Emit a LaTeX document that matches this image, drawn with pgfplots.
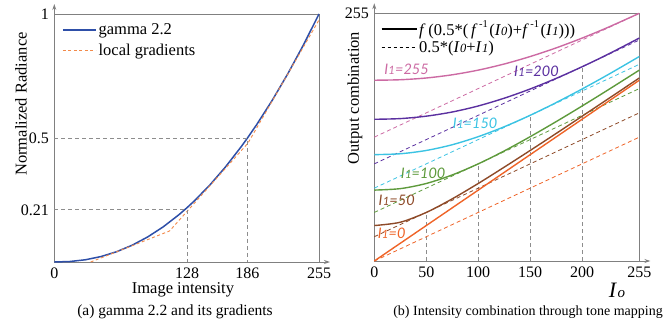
\documentclass[border=0pt]{standalone}
\usepackage{fontspec}
\setmainfont{Liberation Serif}
\newfontfamily\lblfont{Lato}
\usepackage{pgfplots}
\pgfplotsset{compat=1.18}
\usetikzlibrary{arrows.meta}
\definecolor{gblue}{HTML}{2E4FA8}
\definecolor{gorange}{HTML}{F28A4A}
\definecolor{cpink}{HTML}{CC6AA3}
\definecolor{cpurple}{HTML}{5B30A0}
\definecolor{ccyan}{HTML}{3BC3E3}
\definecolor{cgreen}{HTML}{5E9A3C}
\definecolor{cbrown}{HTML}{8E4A28}
\definecolor{cred}{HTML}{EF6428}
\definecolor{frame}{HTML}{808080}
\newcommand{\Ione}[1]{{\lblfont\itshape I\kern0.3pt{\fontsize{11.5}{12}\selectfont 1}=#1}}
\newcommand{\finv}{\textit{f}\kern1.5pt\raisebox{1.1ex}{\fontsize{10.5}{11}\selectfont -1}\kern1.5pt}
\newcommand{\Isub}[1]{\textit{I}\kern0.3pt{\fontsize{12.5}{13}\selectfont\textit{#1}}}
\newcommand{\fticks}{\fontsize{16}{18}\selectfont}
\newcommand{\fsixteen}{\fontsize{16.5}{18}\selectfont}
\begin{document}
\fticks
\begin{tikzpicture}[font=\fticks]
\useasboundingbox (0,0) rectangle (671pt,325pt);
% ---------------- left panel ----------------
\begin{axis}[
  scale only axis, anchor=south west, clip=false,
  axis line style={frame, line width=0.9pt},
  major tick length=0pt,
  /pgf/number format/assume math mode=true,
  xticklabel style={font=\fticks},
  yticklabel style={font=\fticks},
  at={(54.3pt,63pt)}, width=264.7pt, height=248pt,
  xmin=0, xmax=255, ymin=0, ymax=1,
  xtick={0,128,186,255}, ytick={0.21,0.5,1},
  yticklabels={0.21,0.5,1},
  xlabel={Image intensity},
  xlabel style={font=\fsixteen, at={(axis description cs:0.486,-0.113)}, anchor=center},
  ylabel={Normalized Radiance},
  ylabel style={font=\fsixteen, at={(axis description cs:-0.126,0.637)}, anchor=center},
  legend style={draw=none, fill=none, at={(axis description cs:0.025,0.975)}, anchor=north west,
    font=\fsixteen, row sep=3pt, inner sep=1pt},
  legend cell align=left,
  legend image code/.code={\draw[#1] (0pt,0pt) -- (33pt,0pt);},
]
\addplot[gblue, line width=1.5pt] coordinates {
(0,0) (15,0.001966) (30,0.009025) (45,0.02201) (60,0.04145) (75,0.06773)
(90,0.10114) (105,0.14197) (120,0.19047) (128,0.21952) (135,0.24680)
(150,0.31117) (165,0.38375) (180,0.46475) (186,0.49950) (195,0.55424)
(210,0.65231) (225,0.75932) (240,0.87514) (255,1)};
\addlegendentry{gamma 2.2}
\addplot[gorange, line width=0.9pt, dash pattern=on 3pt off 2.5pt] coordinates {
(35,0) (111,0.125) (186.5,0.479) (255,0.976)};
\addlegendentry{local gradients}
\addplot[frame!90, line width=0.9pt, dash pattern=on 4pt off 3pt, forget plot] coordinates {(0,0.5) (186,0.5) (186,0)};
\addplot[frame!90, line width=0.9pt, dash pattern=on 4pt off 3pt, forget plot] coordinates {(0,0.21) (128,0.21) (128,0)};
\draw[frame, line width=0.9pt, -{Stealth[length=6pt,width=4pt]}] (rel axis cs:1,0) -- ++(11pt,0);
\draw[frame, line width=0.9pt, -{Stealth[length=6pt,width=4pt]}] (rel axis cs:0,1) -- ++(0,10pt);
\node[font=\fontsize{15.5}{17}\selectfont] at (axis description cs:0.456,-0.2016) {(a) gamma 2.2 and its gradients};
\end{axis}
% ---------------- right panel ----------------
\begin{axis}[
  scale only axis, anchor=south west, clip=false,
  axis line style={frame, line width=0.9pt},
  major tick length=0pt,
  /pgf/number format/assume math mode=true,
  xticklabel style={font=\fticks},
  yticklabel style={font=\fticks},
  at={(374.3pt,64pt)}, width=265pt, height=247.7pt,
  xmin=0, xmax=255, ymin=0, ymax=255,
  xtick={0,50,100,150,200,255}, ytick={255},
  ylabel={Output combination},
  ylabel style={font=\fsixteen, at={(axis description cs:-0.073,0.658)}, anchor=center},
  legend style={draw=none, fill=none, at={(axis description cs:0.02,0.985)}, anchor=north west,
    font=\fsixteen, row sep=-1pt, inner sep=1pt},
  legend cell align=left,
  legend image code/.code={\draw[#1] (0pt,0pt) -- (35pt,0pt);},
]
\addlegendimage{black, line width=1.4pt}
\addlegendentry{\textit{f}\,(0.5*(\,\finv(\Isub{0})+\finv(\Isub{1})))}
\addlegendimage{black, line width=0.7pt, dash pattern=on 3pt off 3pt}
\addlegendentry{0.5*(\Isub{0}+\Isub{1})}
% grey verticals
\addplot[frame!90, line width=0.7pt, dash pattern=on 4pt off 3pt, forget plot] coordinates {(50,0) (50,50)};
\addplot[frame!90, line width=0.7pt, dash pattern=on 4pt off 3pt, forget plot] coordinates {(100,0) (100,100)};
\addplot[frame!90, line width=0.7pt, dash pattern=on 4pt off 3pt, forget plot] coordinates {(150,0) (150,150)};
\addplot[frame!90, line width=0.7pt, dash pattern=on 4pt off 3pt, forget plot] coordinates {(200,0) (200,200)};
% dashed averages
\addplot[cred, line width=0.8pt, dash pattern=on 4pt off 3pt, forget plot] coordinates {(0,0) (255,127.5)};
\addplot[cbrown, line width=0.8pt, dash pattern=on 4pt off 3pt, forget plot] coordinates {(0,25) (255,152.5)};
\addplot[cgreen, line width=0.8pt, dash pattern=on 4pt off 3pt, forget plot] coordinates {(0,50) (255,177.5)};
\addplot[ccyan, line width=0.8pt, dash pattern=on 4pt off 3pt, forget plot] coordinates {(0,75) (255,202.5)};
\addplot[cpurple, line width=0.8pt, dash pattern=on 4pt off 3pt, forget plot] coordinates {(0,100) (255,227.5)};
\addplot[cpink, line width=0.8pt, dash pattern=on 4pt off 3pt, forget plot] coordinates {(0,127.5) (255,255)};
% solid curves
\addplot[cpink, line width=1.4pt, smooth, forget plot] coordinates {
(0,186.1) (25,186.6) (50,188.4) (75,191.7) (100,196.5) (125,202.8) (150,210.5) (175,219.4) (200,229.5) (225,240.6) (255,255)};
\addplot[cpurple, line width=1.4pt, smooth, forget plot] coordinates {
(0,145.9) (25,146.6) (50,149.1) (75,153.4) (100,159.6) (125,167.6) (150,177.1) (175,188.0) (200,200) (225,212.9) (255,229.5)};
\addplot[ccyan, line width=1.4pt, smooth, forget plot] coordinates {
(0,109.5) (25,110.4) (50,113.8) (75,119.7) (100,128.0) (125,138.2) (150,150) (175,163.1) (200,177.1) (225,191.9) (255,210.5)};
\addplot[cgreen, line width=1.4pt, smooth, forget plot] coordinates {
(0,73.0) (25,74.5) (50,79.8) (75,88.6) (100,100) (125,113.3) (150,128.0) (175,143.5) (200,159.6) (225,176.2) (255,196.5)};
\addplot[cbrown, line width=1.4pt, smooth, forget plot] coordinates {
(0,36.5) (25,39.9) (50,50.0) (75,64.0) (100,79.8) (125,96.6) (150,113.8) (175,131.3) (200,149.1) (225,166.9) (255,188.4)};
\addplot[cred, line width=1.4pt, forget plot] coordinates {(0,0) (255,186.1)};
% curve labels
\node[cpink, font=\fontsize{14.5}{15}\selectfont] at (axis cs:31,197) {\Ione{255}};
\node[cpurple, font=\fontsize{14.5}{15}\selectfont] at (axis cs:156,195) {\Ione{200}};
\node[ccyan, font=\fontsize{14.5}{15}\selectfont] at (axis cs:97,141.7) {\Ione{150}};
\node[cgreen, font=\fontsize{14.5}{15}\selectfont] at (axis cs:47,90) {\Ione{100}};
\node[cbrown, font=\fontsize{14.5}{15}\selectfont] at (axis cs:21.5,62.8) {\Ione{50}};
\node[cred, font=\fontsize{14.5}{15}\selectfont] at (axis cs:16.7,28.5) {\Ione{0}};
\draw[frame, line width=0.9pt, -{Stealth[length=6pt,width=4pt]}] (rel axis cs:1,0) -- ++(11pt,0);
\draw[frame, line width=0.9pt, -{Stealth[length=6pt,width=4pt]}] (rel axis cs:0,1) -- ++(0,10pt);
\node[font=\fontsize{22}{24}\selectfont] at (axis description cs:0.916,-0.117) {\textit{I}\kern0.5pt{\fontsize{15}{16}\selectfont\textit{o}}};
\node[font=\fontsize{14}{15}\selectfont] at (axis description cs:0.58,-0.206) {(b) Intensity combination through tone mapping};
\end{axis}
\end{tikzpicture}
\end{document}
